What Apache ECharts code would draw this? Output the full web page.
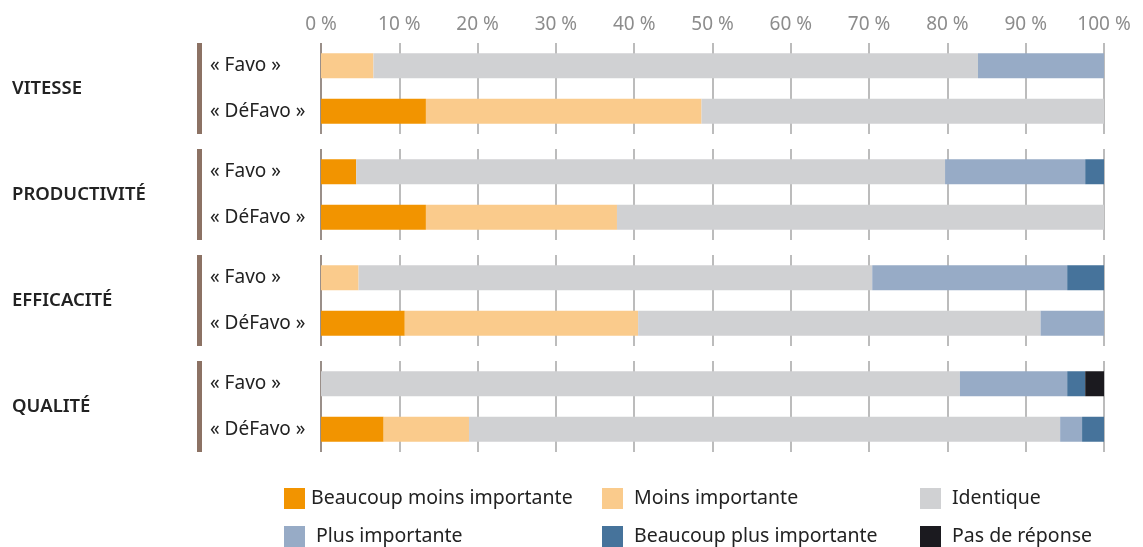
<!DOCTYPE html>
<html>
<head>
<meta charset="utf-8">
<script src="https://cdn.jsdelivr.net/npm/echarts@6/dist/echarts.min.js"></script>
<style>
  html, body { margin: 0; padding: 0; background: #fff; }
  #chart { width: 1143px; height: 547px; }
</style>
</head>
<body>
<div id="chart"></div>
<script>
"use strict";

// ---------- données ----------
const groups = ["VITESSE", "PRODUCTIVITÉ", "EFFICACITÉ", "QUALITÉ"];
const rows = ["« Favo »", "« DéFavo »"];
const xTicks = [0, 10, 20, 30, 40, 50, 60, 70, 80, 90, 100];

// une valeur par ligne : VIT F, VIT D, PROD F, PROD D, EFF F, EFF D, QUAL F, QUAL D
const beaucoupMoins = [0, 13.4, 4.5, 13.4, 0, 10.7, 0, 8.0];
const moins = [6.7, 35.2, 0, 24.4, 4.8, 29.8, 0, 10.9];
const identique = [77.2, 51.4, 75.2, 62.2, 65.6, 51.4, 81.6, 75.5];
const plus = [16.1, 0, 17.9, 0, 24.9, 8.1, 13.7, 2.8];
const beaucoupPlus = [0, 0, 2.4, 0, 4.7, 0, 2.3, 2.8];
const pasDeReponse = [0, 0, 0, 0, 0, 0, 2.4, 0];

const seriesDefs = [
  { name: "Beaucoup moins importante", data: beaucoupMoins, color: "#F29400" },
  { name: "Moins importante", data: moins, color: "#FACB8C" },
  { name: "Identique", data: identique, color: "#D0D1D3" },
  { name: "Plus importante", data: plus, color: "#97ABC6" },
  { name: "Beaucoup plus importante", data: beaucoupPlus, color: "#46739B" },
  { name: "Pas de réponse", data: pasDeReponse, color: "#1B1A1F" },
];

const FONT = "'Noto Sans', 'Open Sans', sans-serif";
const gridTops = [43, 149, 255, 361];

const grid = [], xAxis = [], yAxis = [], series = [];
groups.forEach((g, i) => {
  grid.push({ left: 321, right: 39, top: gridTops[i], height: 91, outerBoundsMode: "none" });
  xAxis.push({
    gridIndex: i, type: "value", min: xTicks[0], max: xTicks[xTicks.length - 1], interval: 10, position: "top",
    axisLine: { show: false }, axisTick: { show: false },
    axisLabel: { show: i === 0, formatter: "{value} %", color: "#8c8c8c", fontSize: 19, fontFamily: FONT, margin: 9 },
    splitLine: { show: true, lineStyle: { color: "#a6a6a6", width: 1.5 } },
  });
  // axe des lignes « Favo » / « DéFavo »
  yAxis.push({
    gridIndex: i, type: "category", data: rows, inverse: true, position: "left",
    axisLine: { show: true, lineStyle: { color: "#8f8078", width: 1.5, cap: "butt" } },
    axisTick: { show: false },
    axisLabel: { align: "left", margin: 111, color: "#222", fontSize: 19, fontFamily: FONT },
  });
  // barre brune + nom du groupe
  yAxis.push({
    gridIndex: i, type: "category", data: rows, inverse: true, position: "left", offset: 122,
    axisLine: { show: true, lineStyle: { color: "#8C7264", width: 5, cap: "butt" } },
    axisTick: { show: false }, axisLabel: { show: false },
    name: g, nameLocation: "middle", nameRotate: 0, nameGap: 187,
    nameTextStyle: { align: "left", color: "#222", fontSize: 18.5, fontWeight: 600, fontFamily: FONT },
  });
  seriesDefs.forEach((s) => {
    series.push({
      name: s.name, type: "bar", stack: "g" + i, xAxisIndex: i, yAxisIndex: 2 * i,
      barWidth: 25, itemStyle: { color: s.color }, silent: true,
      data: s.data.slice(2 * i, 2 * i + 2),
    });
  });
});

// légende : 2 lignes x 3 colonnes
const legendLeft = [284, 602, 920];
const legendTop = [488, 526];
const legendPad = [[1, 6, 6], [6, 6, 6]];
const legend = seriesDefs.map((s, k) => {
  const r = k < 3 ? 0 : 1, c = k % 3;
  return {
    data: [s.name], left: legendLeft[c], top: legendTop[r], padding: 0,
    itemWidth: 21, itemHeight: 21, icon: "rect", selectedMode: false,
    textStyle: { color: "#222", fontSize: 19.5, fontFamily: FONT, lineHeight: 21, padding: [0, 0, 0, legendPad[r][c]] },
  };
});

const chart = echarts.init(document.getElementById("chart"));
chart.setOption({
  animation: false,
  textStyle: { fontFamily: FONT },
  grid, xAxis, yAxis, series, legend,
});
</script>
</body>
</html>
